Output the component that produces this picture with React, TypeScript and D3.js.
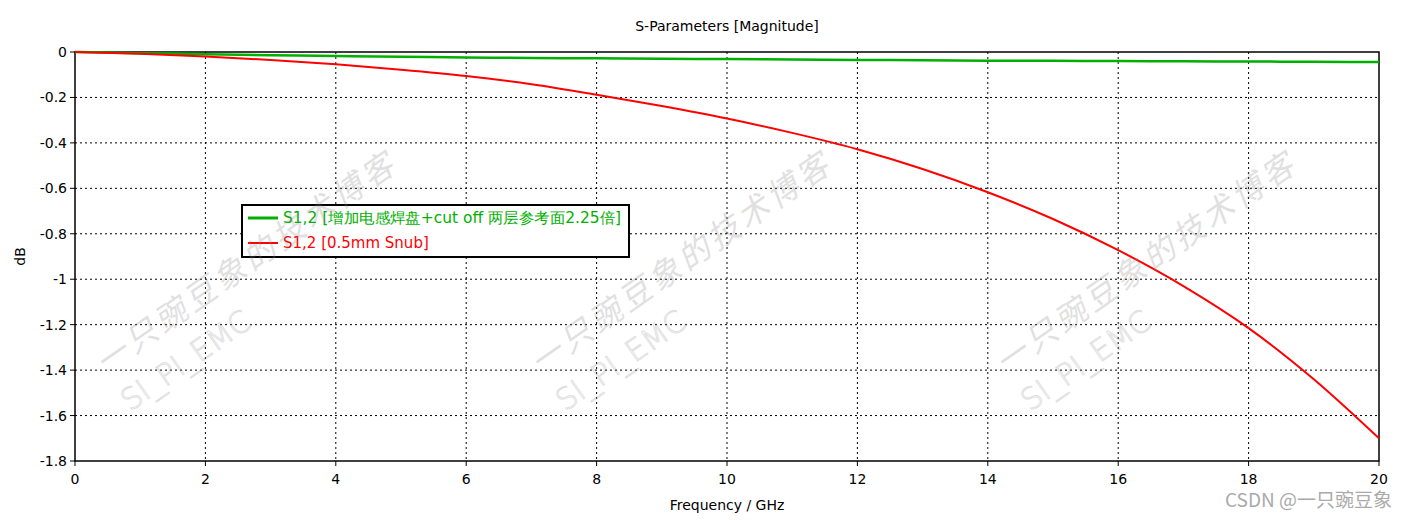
import React from "react";
import * as d3 from "d3";

const freqs = [0, 1, 2, 3, 4, 5, 6, 7, 8, 9, 10, 11, 12, 13, 14, 15, 16, 17, 18, 19, 20];
const redValues = [0, -0.008, -0.02, -0.035, -0.054, -0.078, -0.106, -0.142, -0.188, -0.238, -0.293, -0.356, -0.428, -0.515, -0.617, -0.735, -0.872, -1.03, -1.215, -1.44, -1.70];
const greenValues = [0, -0.005, -0.01, -0.014, -0.018, -0.021, -0.024, -0.026, -0.028, -0.03, -0.031, -0.033, -0.035, -0.036, -0.038, -0.039, -0.04, -0.041, -0.042, -0.043, -0.044];
const xTicks = [0, 2, 4, 6, 8, 10, 12, 14, 16, 18, 20];
const yTicks = [0, -0.2, -0.4, -0.6, -0.8, -1, -1.2, -1.4, -1.6, -1.8];
const legendLabels = ["S1,2 [增加电感焊盘+cut off 两层参考面2.25倍]", "S1,2 [0.5mm Snub]"];
const seriesColors = ["#00b000", "#ff0000"];
const watermarkX = [105, 540, 1005];

const W = 1408, H = 520;
const M = { left: 75, right: 1379, top: 52, bottom: 461 };
const FONT = "Tahoma, 'DejaVu Sans', sans-serif";

export default function App() {
  const x = d3.scaleLinear().domain([0, 20]).range([M.left, M.right]);
  const y = d3.scaleLinear().domain([-1.8, 0]).range([M.bottom, M.top]);
  const line = d3.line<number>().x((_, i) => x(freqs[i])).y((v) => y(v)).curve(d3.curveMonotoneX);
  const fmt = (v: number) => (v === 0 ? "0" : String(Math.round(v * 10) / 10));

  return (
    <svg width={W} height={H} style={{ position: "absolute", left: 0, top: 0, background: "#fff" }}>
      <rect x={0} y={0} width={W} height={H} fill="#fff" />
      <text x={727} y={31} textAnchor="middle" fontFamily={FONT} fontSize={14} fill="#000">S-Parameters [Magnitude]</text>

      {/* grid */}
      {xTicks.slice(1, -1).map((t) => (
        <line key={"gx" + t} x1={x(t)} x2={x(t)} y1={M.top} y2={M.bottom} stroke="#000" strokeWidth={1} strokeDasharray="2,3" />
      ))}
      {yTicks.slice(1, -1).map((t) => (
        <line key={"gy" + t} x1={M.left} x2={M.right} y1={y(t)} y2={y(t)} stroke="#000" strokeWidth={1} strokeDasharray="2,3" />
      ))}

      {/* frame */}
      <rect x={M.left} y={M.top} width={M.right - M.left} height={M.bottom - M.top} fill="none" stroke="#000" strokeWidth={1.5} />

      {/* ticks */}
      {xTicks.map((t) => (
        <g key={"tx" + t}>
          <line x1={x(t)} x2={x(t)} y1={M.bottom} y2={M.bottom + 5} stroke="#000" />
          <text x={x(t)} y={M.bottom + 23} textAnchor="middle" fontFamily={FONT} fontSize={14} fill="#000">{t}</text>
        </g>
      ))}
      {yTicks.map((t) => (
        <g key={"ty" + t}>
          <line x1={M.left - 5} x2={M.left} y1={y(t)} y2={y(t)} stroke="#000" />
          <text x={M.left - 8} y={y(t) + 5} textAnchor="end" fontFamily={FONT} fontSize={14} fill="#000">{fmt(t)}</text>
        </g>
      ))}
      <text transform={`translate(25,${(M.top + M.bottom) / 2}) rotate(-90)`} textAnchor="middle" fontFamily={FONT} fontSize={14} fill="#000">dB</text>
      <text x={727} y={510} textAnchor="middle" fontFamily={FONT} fontSize={14} fill="#000">Frequency / GHz</text>

      {/* series */}
      <path d={line(greenValues) || ""} fill="none" stroke={seriesColors[0]} strokeWidth={2.5} />
      <path d={line(redValues) || ""} fill="none" stroke={seriesColors[1]} strokeWidth={2} />

      {/* legend */}
      <rect x={242} y={205} width={387} height={52} fill="#fff" stroke="#000" strokeWidth={2} />
      {legendLabels.map((lab, i) => (
        <g key={"lg" + i}>
          <line x1={248} x2={278} y1={218 + i * 25} y2={218 + i * 25} stroke={seriesColors[i]} strokeWidth={i === 0 ? 3 : 2} />
          <text x={283} y={223 + i * 25} fontFamily={FONT} fontSize={15} fill={seriesColors[i]} textLength={i === 0 ? 338 : undefined} lengthAdjust="spacingAndGlyphs">{lab}</text>
        </g>
      ))}

      {/* watermark (on top) */}
      {watermarkX.map((wx, i) => (
        <g key={"wm" + i} opacity={0.25} fill="#888">
          <text transform={`translate(${wx},${375}) rotate(-35)`} fontFamily="'Noto Sans CJK SC', sans-serif" fontSize={32} fontStyle="italic" letterSpacing={4}>一只豌豆象的技术博客</text>
          <text transform={`translate(${wx + 25},${412}) rotate(-35)`} fontFamily="'DejaVu Sans', sans-serif" fontSize={30} fontWeight={200} fill="none" stroke="#888" strokeWidth={1}>SI_PI_EMC</text>
        </g>
      ))}

      <text x={1392} y={507} textAnchor="end" fontFamily="'Noto Sans CJK SC', sans-serif" fontSize={19} fill="#aaa">CSDN @一只豌豆象</text>
    </svg>
  );
}
